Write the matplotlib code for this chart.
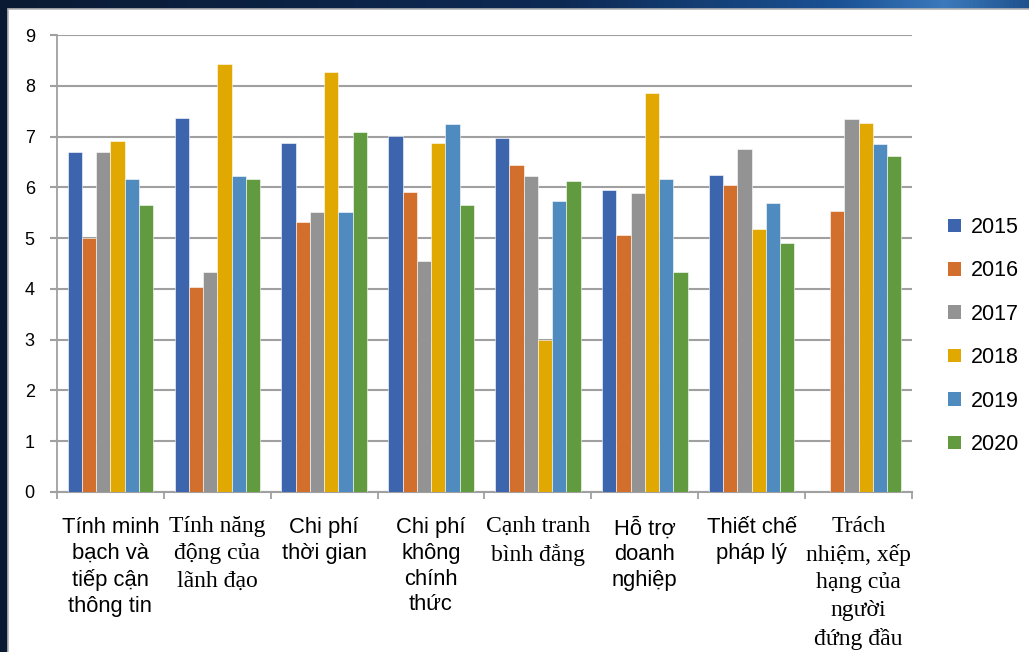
import numpy as np
import matplotlib
matplotlib.use('Agg')
import matplotlib.pyplot as plt
from matplotlib.colors import LinearSegmentedColormap
from matplotlib.patches import Rectangle

# Du lieu
categories = [
    'Tính minh\nbạch và\ntiếp cận\nthông tin',
    'Tính năng\nđộng của\nlãnh đạo',
    'Chi phí\nthời gian',
    'Chi phí\nkhông\nchính\nthức',
    'Cạnh tranh\nbình đẳng',
    'Hỗ trợ\ndoanh\nnghiệp',
    'Thiết chế\npháp lý',
    'Trách\nnhiệm, xếp\nhạng của\nngười\nđứng đầu',
]
serif_labels = [1, 4, 7]

years = ['2015', '2016', '2017', '2018', '2019', '2020']
v2015 = [6.69, 7.37, 6.88, 7.02, 6.98, 5.94, 6.25, np.nan]
v2016 = [5.01, 4.03, 5.31, 5.91, 6.43, 5.07, 6.05, 5.53]
v2017 = [6.69, 4.34, 5.52, 4.55, 6.22, 5.88, 6.75, 7.34]
v2018 = [6.91, 8.43, 8.27, 6.88, 2.99, 7.86, 5.18, 7.27]
v2019 = [6.16, 6.22, 5.52, 7.24, 5.74, 6.16, 5.70, 6.85]
v2020 = [5.66, 6.16, 7.09, 5.66, 6.12, 4.34, 4.90, 6.61]
series = [v2015, v2016, v2017, v2018, v2019, v2020]
colors = ['#3D65AD', '#D26F2C', '#939393', '#E0A800', '#4F8BBF', '#629A40']

fig = plt.figure(figsize=(10.29, 6.52), dpi=100)

# Nen slide (gradient xanh dam + khung trang)
bg = fig.add_axes([0, 0, 1, 1], zorder=-10)
cmap = LinearSegmentedColormap.from_list('slide', [
    (0.0, '#0a1a33'), (0.55, '#0d2a55'), (0.82, '#1b5396'),
    (0.92, '#3b79bc'), (1.0, '#1f528e')])
bg.imshow(np.linspace(0, 1, 512)[None, :], aspect='auto', cmap=cmap,
          extent=[0, 1, 0, 1])
bg.add_patch(Rectangle((8 / 1029, -0.01), 1.0, 1 - 9 / 652 + 0.01,
                       transform=bg.transAxes, facecolor='white',
                       edgecolor='#b5b5b5', linewidth=1.2))
bg.set_xlim(0, 1)
bg.set_ylim(0, 1)
bg.axis('off')

ax = fig.add_axes([57 / 1029, 1 - 492 / 652, 855 / 1029, 457 / 652])
ax.set_facecolor('none')

x = np.arange(len(categories))
w = 0.8 / len(series)
for i, (vals, c) in enumerate(zip(series, colors)):
    ax.bar(x + (i - 2.5) * w, vals, width=w, color=c, label=years[i],
           edgecolor='#ffffff', linewidth=0.4, zorder=3)

ax.set_xlim(-0.5, 7.5)
ax.set_ylim(0, 9)
ax.set_yticks(range(0, 10))
ax.grid(axis='y', color='#a0a0a0', linewidth=1.5, zorder=0)
ax.set_axisbelow(True)

for s in ['top', 'right']:
    ax.spines[s].set_visible(False)
ax.spines['left'].set_color('#a0a0a0')
ax.spines['left'].set_linewidth(1.3)
ax.spines['bottom'].set_color('#a0a0a0')
ax.spines['bottom'].set_linewidth(1.5)

ax.tick_params(axis='y', length=5, width=1.5, color='#a0a0a0', pad=11,
               labelsize=13)
for lab in ax.get_yticklabels():
    lab.set_fontfamily('Liberation Sans')

# nhan truc x (chu thuong va chu co chan)
ax.set_xticks(x)
ax.set_xticklabels([])
ax.tick_params(axis='x', which='major', length=0)
for i, name in enumerate(categories):
    if i in serif_labels:
        ax.annotate(name, xy=(x[i], 0), xycoords=('data', 'axes fraction'),
                    xytext=(0, -17), textcoords='offset points',
                    ha='center', va='top', multialignment='center',
                    family='Liberation Serif', fontsize=17, linespacing=1.42)
    else:
        ax.annotate(name, xy=(x[i], 0), xycoords=('data', 'axes fraction'),
                    xytext=(0, -18), textcoords='offset points',
                    ha='center', va='top', multialignment='center',
                    family='Liberation Sans', fontsize=15.8, linespacing=1.3)
ax.set_xticks(np.arange(-0.5, 8, 1), minor=True)
ax.tick_params(axis='x', which='minor', length=5, width=1.3, color='#a0a0a0')

leg = ax.legend(loc='center left', bbox_to_anchor=(948 / 1029, 1 - 336 / 652),
                bbox_transform=fig.transFigure, frameon=False,
                prop={'family': 'Liberation Sans', 'size': 15.5},
                handlelength=0.6, handleheight=0.6, handletextpad=0.45,
                labelspacing=1.04, borderpad=0, borderaxespad=0)
for h in leg.legend_handles:
    h.set_linewidth(0)

fig.savefig('out.png', dpi=100)
